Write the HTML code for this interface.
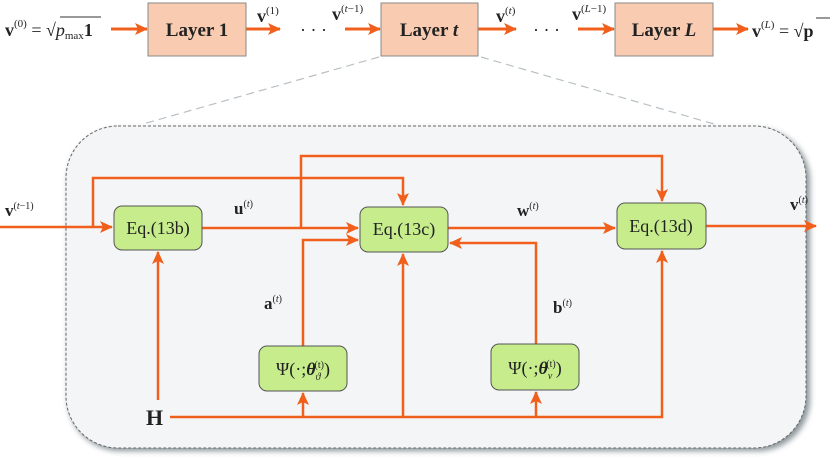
<!DOCTYPE html>
<html><head><meta charset="utf-8"><style>
body{margin:0;background:#fff;}
svg{display:block;font-family:"Liberation Serif",serif;}
</style></head><body>
<svg width="830" height="457" viewBox="0 0 830 457" xmlns="http://www.w3.org/2000/svg">
<defs>
<marker id="ah" markerWidth="13" markerHeight="12" refX="12" refY="6" orient="auto" markerUnits="userSpaceOnUse">
<path d="M0,0 L13,6 L0,12 L3,6 Z" fill="#f0601c"/></marker>
<filter id="sh" x="-5%" y="-5%" width="110%" height="110%"><feGaussianBlur stdDeviation="3"/></filter>
</defs>
<!-- top row -->
<g font-size="18" font-weight="bold" fill="#222">
<text x="5" y="36">v<tspan font-size="11" dy="-9" font-weight="normal">(0)</tspan><tspan dy="9" font-weight="normal"> = √</tspan><tspan font-style="italic" font-weight="normal">p</tspan><tspan font-size="11" font-weight="normal" dy="3">max</tspan><tspan dy="-3">1</tspan></text>
</g>
<line x1="60" y1="17" x2="101" y2="17" stroke="#333" stroke-width="1"/>
<g stroke="#f0601c" stroke-width="3" fill="none" marker-end="url(#ah)">
<line x1="111" y1="29" x2="147" y2="29"/>
<line x1="246" y1="29" x2="280" y2="29"/>
<line x1="345" y1="29" x2="380" y2="29"/>
<line x1="478" y1="29" x2="516" y2="29"/>
<line x1="578" y1="29" x2="614" y2="29"/>
<line x1="713" y1="29" x2="748" y2="29"/>
</g>
<g fill="#f9cbb0" stroke="#888" stroke-width="1">
<rect x="148" y="3" width="98" height="53"/>
<rect x="381" y="3" width="97" height="53"/>
<rect x="615" y="3" width="98" height="53"/>
</g>
<g font-size="19" font-weight="bold" text-anchor="middle" fill="#222">
<text x="197" y="36">Layer 1</text>
<text x="429" y="36">Layer <tspan font-style="italic">t</tspan></text>
<text x="664" y="36">Layer <tspan font-style="italic">L</tspan></text>
</g>
<g font-size="18" font-weight="bold" fill="#222">
<text x="257" y="22">v<tspan font-size="11" dy="-8" font-weight="normal">(1)</tspan></text>
<text x="332" y="20">v<tspan font-size="11" dy="-8" font-weight="normal">(<tspan font-style="italic">t</tspan>−1)</tspan></text>
<text x="496" y="22">v<tspan font-size="11" dy="-8" font-weight="normal">(<tspan font-style="italic">t</tspan>)</tspan></text>
<text x="572" y="20">v<tspan font-size="11" dy="-8" font-weight="normal">(<tspan font-style="italic">L</tspan>−1)</tspan></text>
<text x="752" y="37">v<tspan font-size="11" dy="-9" font-weight="normal">(<tspan font-style="italic">L</tspan>)</tspan><tspan dy="9" font-weight="normal"> = √</tspan>p</text>
<text x="300" y="36" font-weight="normal">· · ·</text>
<text x="533" y="36" font-weight="normal">· · ·</text>
</g>
<line x1="816" y1="18" x2="830" y2="18" stroke="#333"/>
<!-- dashed zoom lines -->
<g stroke="#b8c0c4" stroke-width="1.2" stroke-dasharray="8,5">
<line x1="379" y1="57" x2="143" y2="124"/>
<line x1="481" y1="57" x2="714" y2="124"/>
</g>
<!-- panel -->
<rect x="68" y="129" width="742" height="322" rx="52" fill="#6e7b80" filter="url(#sh)" opacity="0.8"/>
<rect x="66" y="126" width="740" height="322" rx="52" fill="#f4f5f7" stroke="#666" stroke-width="1" stroke-dasharray="3,2"/>
<!-- connectors -->
<g stroke="#f0601c" stroke-width="2.5" fill="none">
<line x1="0" y1="227" x2="112" y2="227" marker-end="url(#ah)"/>
<polyline points="93,227 93,178 403,178 403,205" marker-end="url(#ah)"/>
<line x1="202" y1="228" x2="358" y2="228" marker-end="url(#ah)"/>
<polyline points="301,228 301,156 662,156 662,201" marker-end="url(#ah)"/>
<polyline points="303,346 303,240 358,240" marker-end="url(#ah)"/>
<line x1="448" y1="228" x2="615" y2="228" marker-end="url(#ah)"/>
<polyline points="536,344 536,243 450,243" marker-end="url(#ah)"/>
<line x1="706" y1="226" x2="816" y2="226" marker-end="url(#ah)"/>
<line x1="158" y1="400" x2="158" y2="252" marker-end="url(#ah)"/>
<polyline points="170,417 662,417 662,251" marker-end="url(#ah)"/>
<line x1="303" y1="417" x2="303" y2="393" marker-end="url(#ah)"/>
<line x1="403" y1="417" x2="403" y2="254" marker-end="url(#ah)"/>
<line x1="536" y1="417" x2="536" y2="392" marker-end="url(#ah)"/>
</g>
<!-- green boxes -->
<g fill="#c6ec8c" stroke="#555" stroke-width="1">
<rect x="114" y="206" width="88" height="44" rx="8"/>
<rect x="360" y="207" width="88" height="45" rx="8"/>
<rect x="617" y="203" width="89" height="46" rx="8"/>
<rect x="259" y="346" width="88" height="45" rx="8"/>
<rect x="491" y="344" width="88" height="46" rx="8"/>
</g>
<g font-size="18" text-anchor="middle" fill="#222">
<text x="158" y="234">Eq.(13b)</text>
<text x="404" y="235">Eq.(13c)</text>
<text x="661" y="232">Eq.(13d)</text>
<text x="303" y="375">Ψ(·;<tspan font-weight="bold" font-style="italic">θ</tspan><tspan font-size="10" dy="5" font-style="italic">ϑ</tspan><tspan font-size="10" dy="-12" dx="-6">(t)</tspan><tspan dy="7">)</tspan></text>
<text x="535" y="374">Ψ(·;<tspan font-weight="bold" font-style="italic">θ</tspan><tspan font-size="10" dy="5" font-style="italic">ν</tspan><tspan font-size="10" dy="-12" dx="-6">(t)</tspan><tspan dy="7">)</tspan></text>
</g>
<g font-size="17" font-weight="bold" fill="#222">
<text x="5" y="216">v<tspan font-size="10" dy="-7" font-weight="normal">(<tspan font-style="italic">t</tspan>−1)</tspan></text>
<text x="234" y="214">u<tspan font-size="10" dy="-7" font-weight="normal">(<tspan font-style="italic">t</tspan>)</tspan></text>
<text x="264" y="309">a<tspan font-size="10" dy="-7" font-weight="normal">(<tspan font-style="italic">t</tspan>)</tspan></text>
<text x="517" y="216">w<tspan font-size="10" dy="-7" font-weight="normal">(<tspan font-style="italic">t</tspan>)</tspan></text>
<text x="553" y="313">b<tspan font-size="10" dy="-7" font-weight="normal">(<tspan font-style="italic">t</tspan>)</tspan></text>
<text x="790" y="210">v<tspan font-size="10" dy="-7" font-weight="normal">(<tspan font-style="italic">t</tspan>)</tspan></text>
<text x="146" y="425" font-size="22">H</text>
</g>
</svg>
</body></html>
